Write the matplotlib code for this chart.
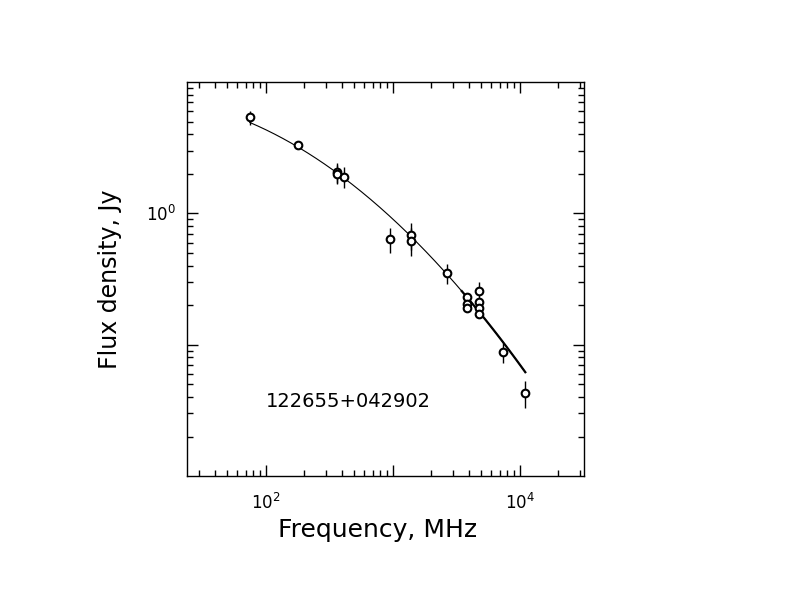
import numpy as np
import matplotlib
matplotlib.use("Agg")
import matplotlib.pyplot as plt
from matplotlib.ticker import LogLocator, FixedLocator, FixedFormatter, NullFormatter

# data (MHz, Jy)
freq = [75, 180, 365, 365, 411, 962, 1400, 1400, 2700,
        3880, 3880, 3880, 4800, 4800, 4800, 4800, 7430, 11100]
flux = [5.37, 3.30, 2.05, 2.00, 1.90, 0.64, 0.69, 0.62, 0.35,
        0.230, 0.203, 0.189, 0.255, 0.210, 0.192, 0.170, 0.088, 0.043]
err = [0.65, 0.0, 0.35, 0.33, 0.35, 0.14, 0.16, 0.15, 0.06,
       0.0, 0.0, 0.0, 0.045, 0.0, 0.0, 0.0, 0.015, 0.010]

# fitted spectrum: log S = a + b*u + c*u^2,  u = log f - 3
fit_coef = [-0.0416, -0.893, -0.214]
fit_range = [75, 11100]
name = "122655+042902"

fig = plt.figure(figsize=(7.92, 6.12), dpi=100)
ax = fig.add_axes([0.236, 0.222, 0.501, 0.644])

f = np.logspace(np.log10(fit_range[0]), np.log10(fit_range[1]), 300)
u = np.log10(f) - 3
ax.plot(f, 10 ** (fit_coef[0] + fit_coef[1] * u + fit_coef[2] * u ** 2), color="black", lw=0.8)
# the tail of the curve looks heavier in the picture
m = f > 3500
ax.plot(f[m], 10 ** (fit_coef[0] + fit_coef[1] * u[m] + fit_coef[2] * u[m] ** 2), color="black", lw=1.6)

ax.errorbar(freq, flux, yerr=err, fmt="o", mfc="white", mec="black", mew=1.5,
            ms=5.5, ecolor="black", elinewidth=1.0, capsize=0, zorder=3)

ax.set_xscale("log")
ax.set_yscale("log")
ax.set_xlim(24, 32000)
ax.set_ylim(0.01, 10)

ax.xaxis.set_major_locator(FixedLocator([1e2, 1e3, 1e4]))
ax.xaxis.set_major_formatter(FixedFormatter([r"$10^{2}$", "", r"$10^{4}$"]))
ax.xaxis.set_minor_locator(LogLocator(base=10, subs=np.arange(2, 10), numticks=20))
ax.xaxis.set_minor_formatter(NullFormatter())
ax.yaxis.set_major_locator(FixedLocator([1e-1, 1e0]))
ax.yaxis.set_major_formatter(FixedFormatter(["", r"$10^{0}$"]))
ax.yaxis.set_minor_locator(LogLocator(base=10, subs=np.arange(2, 10), numticks=20))
ax.yaxis.set_minor_formatter(NullFormatter())

ax.tick_params(which="both", direction="in", top=True, right=True, width=1.0)
ax.tick_params(which="major", length=8, labelsize=12)
ax.tick_params(which="minor", length=4)
ax.tick_params(axis="x", which="major", pad=12)
ax.tick_params(axis="y", which="major", pad=8)
for s in ax.spines.values():
    s.set_linewidth(1.0)

ax.set_xlabel("Frequency, MHz", fontsize=18)
ax.xaxis.set_label_coords(0.48, -0.105)
ax.set_ylabel("Flux density, Jy", fontsize=17)
ax.yaxis.set_label_coords(-0.164, 0.5)
ax.text(0.2, 0.175, name, transform=ax.transAxes, fontsize=14)

fig.savefig("out.png", dpi=100)
